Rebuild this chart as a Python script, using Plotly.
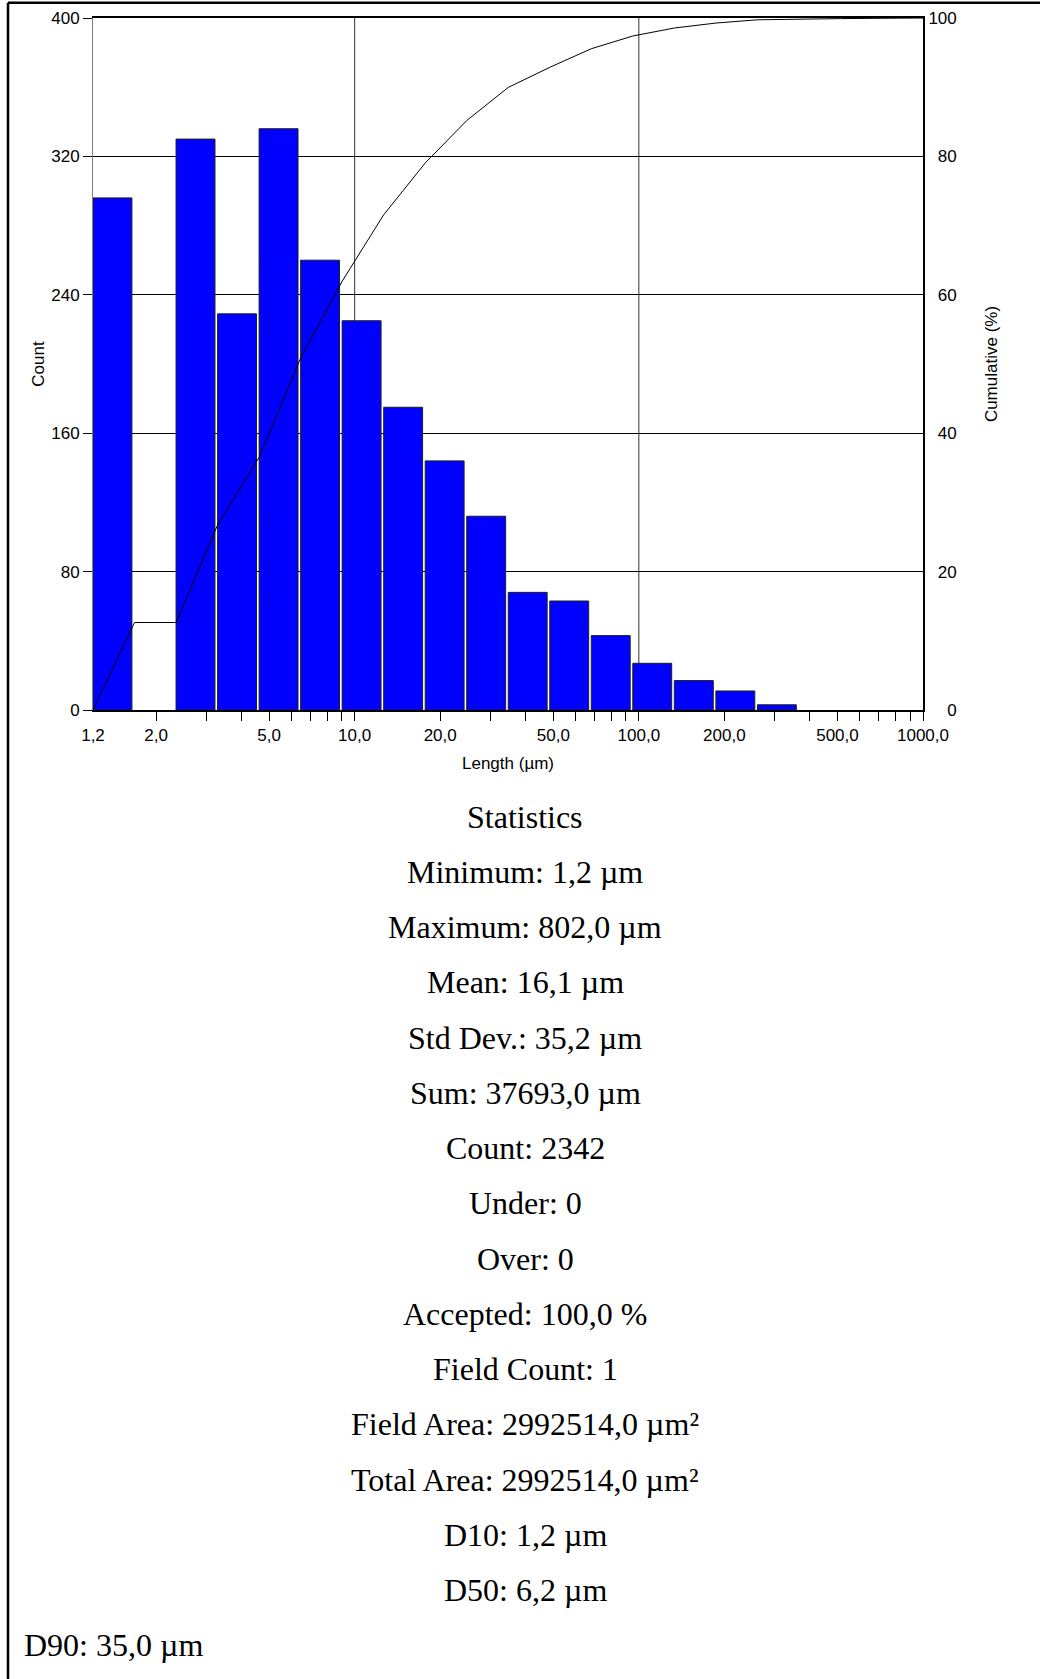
import math
import plotly.graph_objects as go

# ---------------- data ----------------
bin_edges = [1.2, 1.68, 2.352, 3.293, 4.61, 6.454, 9.035, 12.65, 17.71, 24.79,
             34.71, 48.59, 68.03, 95.24, 133.3, 186.7, 261.4, 365.9, 512.3, 717.2, 1004.0]
counts = [296, 0, 330, 229, 336, 260, 225, 175, 144, 112,
          68, 63, 43, 27, 17, 11, 3, 0, 0, 0]
cum_pct = [0.0, 12.64, 12.64, 26.73, 36.51, 50.85, 61.96, 71.56, 79.04, 85.18,
           89.97, 92.87, 95.56, 97.40, 98.55, 99.27, 99.74, 99.87, 99.91, 99.96, 100.0]

x_tickvals = [1.2, 2, 5, 10, 20, 50, 100, 200, 500, 1000]
x_ticktext = ["1,2", "2,0", "5,0", "10,0", "20,0", "50,0", "100,0", "200,0", "500,0", "1000,0"]
x_minor_ticks = [2, 3, 4, 5, 6, 7, 8, 9, 10, 20, 30, 40, 50, 60, 70, 80, 90,
                 100, 200, 300, 400, 500, 600, 700, 800, 900, 1000]
x_gridvals = [10, 100]

y_tickvals = [0, 80, 160, 240, 320, 400]
y2_tickvals = [0, 20, 40, 60, 80, 100]
y2_ticktext = ["\u2007\u20070", "\u200720", "\u200740", "\u200760", "\u200780", "100"]

stats_title = "Statistics"
stats_lines = [
    "Minimum: 1,2 µm",
    "Maximum: 802,0 µm",
    "Mean: 16,1 µm",
    "Std Dev.: 35,2 µm",
    "Sum: 37693,0 µm",
    "Count: 2342",
    "Under: 0",
    "Over: 0",
    "Accepted: 100,0 %",
    "Field Count: 1",
    "Field Area: 2992514,0 µm²",
    "Total Area: 2992514,0 µm²",
    "D10: 1,2 µm",
    "D50: 6,2 µm",
]
last_line = "D90: 35,0 µm"

# ---------------- layout constants ----------------
W, H = 1040, 1679
PL, PR, PT, PB = 93, 923, 18, 710   # plot area in px
SANS = "Liberation Sans, Arial, sans-serif"
SERIF = "Liberation Serif, Times New Roman, serif"
TICK_FS = 17
STAT_FS = 32


def px(xp):
    return (xp - PL) / (PR - PL)


def py(yp):
    return (PB - yp) / (PB - PT)


BAR_GAP_DEC = 0.0092  # visual gap between bars (decades)

# bars as closed polygons
bx, by = [], []
for i, c in enumerate(counts):
    if c <= 0:
        continue
    lo = bin_edges[i]
    hi = bin_edges[i + 1] / (10 ** BAR_GAP_DEC)
    bx += [lo, lo, hi, hi, lo, None]
    by += [0, c, c, 0, 0, None]

fig = go.Figure()
fig.add_trace(go.Scatter(
    x=bx, y=by, mode="lines", fill="toself",
    fillcolor="#0000FF", line=dict(color="#1e1e1e", width=1),
    hoverinfo="skip", showlegend=False, yaxis="y"))

fig.add_trace(go.Scatter(
    x=bin_edges, y=cum_pct, mode="lines",
    line=dict(color="black", width=1),
    showlegend=False, yaxis="y2"))

fig.update_layout(
    width=W, height=H,
    margin=dict(l=PL, r=W - PR, t=PT, b=H - PB, autoexpand=False),
    paper_bgcolor="white", plot_bgcolor="white",
    font=dict(family=SANS, size=TICK_FS, color="black"),
    xaxis=dict(
        type="log", range=[math.log10(1.2), 3],
        tickmode="array", tickvals=x_tickvals, ticktext=x_ticktext,
        ticks="outside", ticklen=9, tickcolor="rgba(0,0,0,0)",
        minor=dict(tickmode="array", tickvals=x_minor_ticks, ticks="outside",
                   ticklen=9, tickcolor="black", tickwidth=1, showgrid=False),
        showgrid=False, zeroline=False,
        showline=True, linecolor="black", linewidth=2, mirror=True,
        title=dict(text="Length (µm)", standoff=13, font=dict(size=TICK_FS)),
        tickfont=dict(size=TICK_FS),
    ),
    yaxis=dict(
        range=[0, 400], tickmode="array", tickvals=y_tickvals,
        ticks="outside", ticklen=9, tickcolor="black", tickwidth=1,
        showgrid=True, gridcolor="black", gridwidth=1, zeroline=False,
        showline=True, linecolor="#808080", linewidth=1,
        title=dict(text="Count", standoff=2, font=dict(size=TICK_FS)),
        tickfont=dict(size=TICK_FS),
    ),
    yaxis2=dict(
        range=[0, 100], overlaying="y", side="right",
        tickmode="array", tickvals=y2_tickvals, ticktext=y2_ticktext,
        ticks="", showgrid=False, zeroline=False,
        showline=True, linecolor="black", linewidth=2,
        title=dict(text="Cumulative (%)", standoff=29, font=dict(size=TICK_FS)),
        tickfont=dict(size=TICK_FS),
    ),
)

# vertical grid lines at decades
for g in x_gridvals:
    fig.add_shape(type="line", xref="x", yref="paper", x0=g, x1=g, y0=0, y1=1,
                  line=dict(color="#333333", width=1), layer="below")

# outer frame (top and left)
fig.add_shape(type="line", xref="paper", yref="paper",
              x0=px(8), x1=px(1045), y0=py(2.8), y1=py(2.8),
              line=dict(color="black", width=2.5))
fig.add_shape(type="line", xref="paper", yref="paper",
              x0=px(8), x1=px(8), y0=py(2.8), y1=py(1685),
              line=dict(color="black", width=2.5))

# statistics text
CX = 525.3
Y0 = 816.7
DY = 55.24
fig.add_annotation(text=stats_title, xref="paper", yref="paper",
                   x=px(CX), y=py(Y0), xanchor="center", yanchor="middle",
                   showarrow=False, font=dict(family=SERIF, size=STAT_FS, color="black"))
for k, line in enumerate(stats_lines, start=1):
    fig.add_annotation(text=line, xref="paper", yref="paper",
                       x=px(CX), y=py(Y0 + DY * k), xanchor="center", yanchor="middle",
                       showarrow=False, font=dict(family=SERIF, size=STAT_FS, color="black"))
fig.add_annotation(text=last_line, xref="paper", yref="paper",
                   x=px(21.5), y=py(Y0 + DY * 15), xanchor="left", yanchor="middle",
                   showarrow=False, font=dict(family=SERIF, size=STAT_FS, color="black"))

fig.write_html(
    "out.html",
    config={"displayModeBar": False},
    post_script="document.body.style.margin='0px';document.body.style.overflow='hidden';",
)
